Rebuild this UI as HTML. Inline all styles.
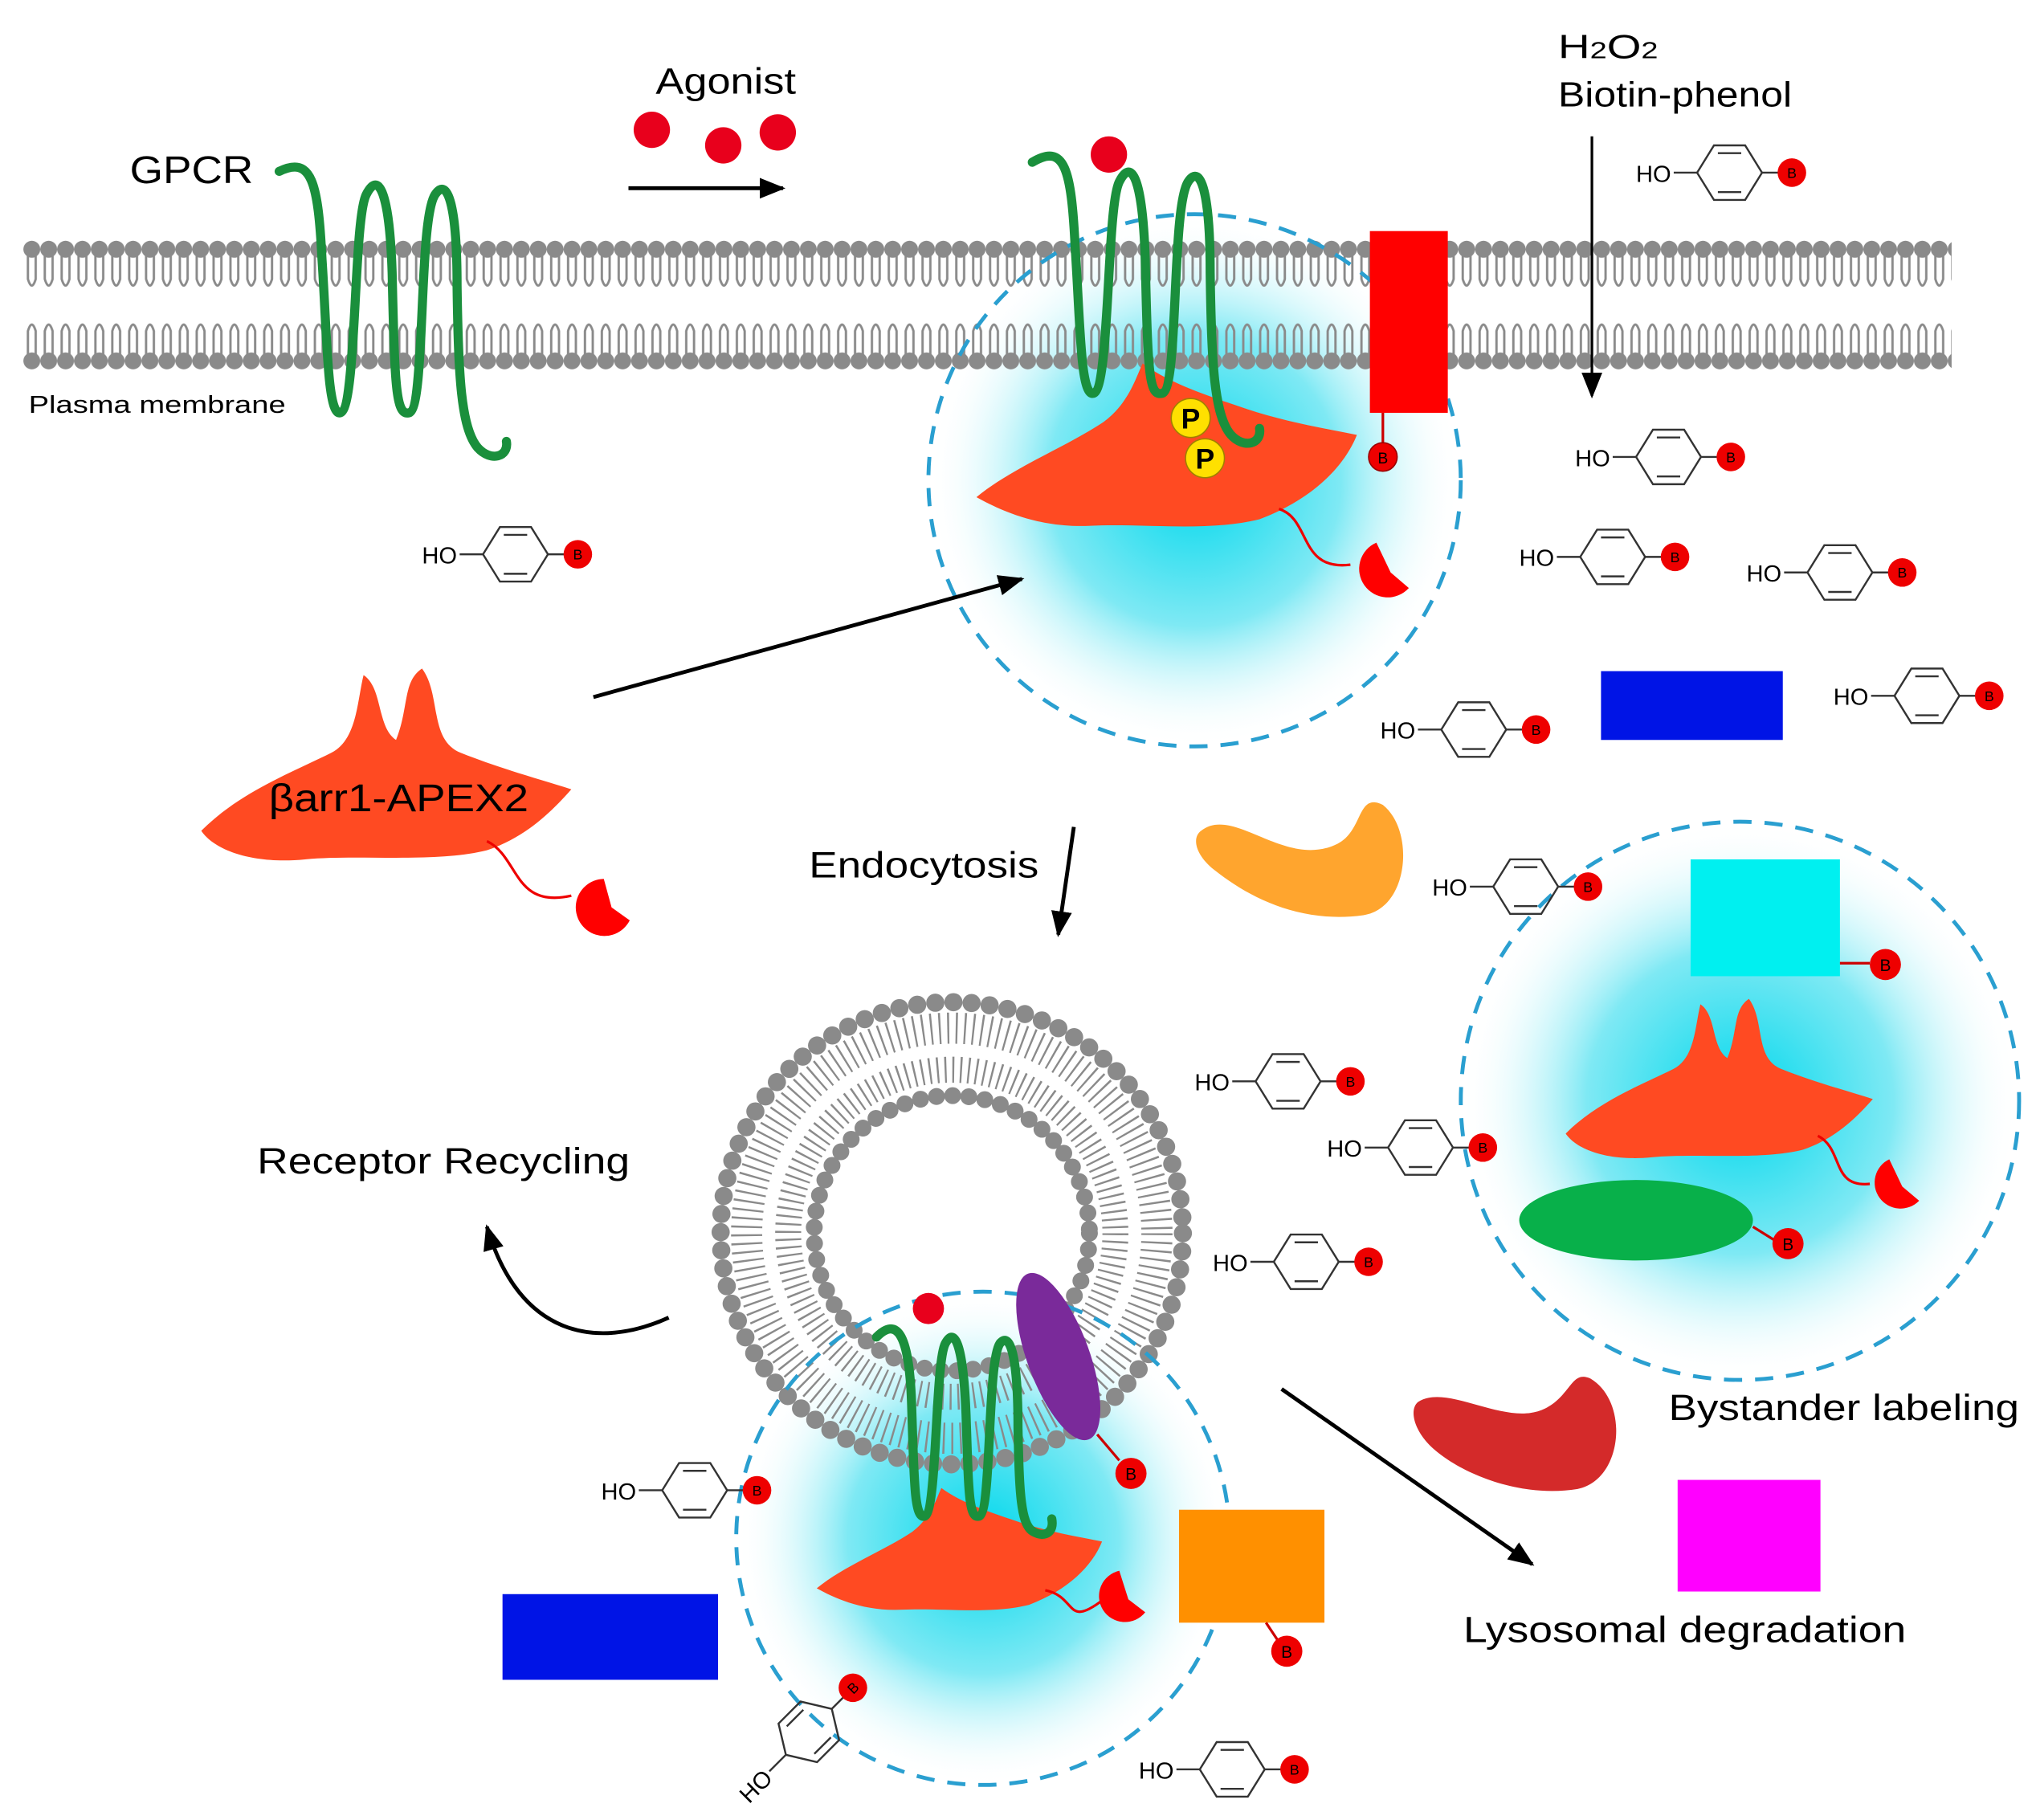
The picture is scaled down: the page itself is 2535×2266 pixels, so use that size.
<!DOCTYPE html>
<html><head><meta charset="utf-8"><style>html,body{margin:0;padding:0;background:#fff}svg{display:block}text{font-family:"Liberation Sans",sans-serif}</style></head>
<body>
<svg width="2535" height="2266" viewBox="0 0 1568 1402" preserveAspectRatio="none" xmlns="http://www.w3.org/2000/svg">
<defs>
<radialGradient id="cy"><stop offset="0" stop-color="#00d8ec"/><stop offset="0.55" stop-color="#7fe9f4"/><stop offset="1" stop-color="#fff" stop-opacity="0"/></radialGradient>
<pattern id="mem" x="18" y="185" width="13" height="100" patternUnits="userSpaceOnUse">
<circle cx="6.5" cy="7" r="6.5" fill="#8a8a8a"/><path d="M3.5 12 L3.5 30 Q6.5 40 9.5 30 L9.5 12" stroke="#8a8a8a" stroke-width="1.8" fill="none"/>
<circle cx="6.5" cy="93" r="6.5" fill="#8a8a8a"/><path d="M3.5 88 L3.5 70 Q6.5 60 9.5 70 L9.5 88" stroke="#8a8a8a" stroke-width="1.8" fill="none"/>
</pattern>
<marker id="ah2" markerWidth="20" markerHeight="16" refX="18" refY="8" orient="auto" markerUnits="userSpaceOnUse"><path d="M0,0 L20,8 L0,16z" fill="#000"/></marker>
</defs>
<rect width="1568" height="1402" fill="#fff"/>

<circle cx="920" cy="370" r="205" fill="url(#cy)"/>
<circle cx="1340" cy="848" r="215" fill="url(#cy)"/>
<circle cx="757" cy="1185" r="190" fill="url(#cy)"/>

<rect x="18" y="185" width="1485" height="100" fill="url(#mem)"/>

<g fill="none" stroke="#8a8a8a" stroke-linecap="round">
<circle cx="733" cy="950" r="178" stroke-width="14" stroke-dasharray="0 14"/>
<circle cx="733" cy="950" r="158" stroke-width="24" stroke-dasharray="1.5 5" stroke-linecap="butt"/>
<circle cx="733" cy="950" r="106" stroke-width="13" stroke-dasharray="0 12.5"/>
<circle cx="733" cy="950" r="126" stroke-width="20" stroke-dasharray="1.5 4.5" stroke-linecap="butt"/>
</g>

<g fill="none" stroke="#2a9fd0" stroke-width="3" stroke-dasharray="14 10">
<circle cx="920" cy="370" r="205"/>
<circle cx="1340" cy="848" r="215"/>
<circle cx="757" cy="1185" r="190"/>
</g>

<rect x="1055" y="178" width="60" height="140" fill="#f00"/>
<line x1="1065" y1="318" x2="1065" y2="345" stroke="#c00" stroke-width="2"/>
<circle cx="1065" cy="352" r="11" fill="#e00" stroke="#900"/><text x="1065" y="357" font-size="12" text-anchor="middle">B</text>
<rect x="1233" y="517" width="140" height="53" fill="#0014e6"/>
<rect x="387" y="1228" width="166" height="66" fill="#0014e6"/>
<rect x="1302" y="662" width="115" height="90" fill="#00f0f0"/>
<rect x="908" y="1163" width="112" height="87" fill="#ff9000"/>
<rect x="1292" y="1140" width="110" height="86" fill="#ff00ff"/>
<line x1="1417" y1="742" x2="1440" y2="742" stroke="#c00" stroke-width="2"/>
<circle cx="1452" cy="743" r="12" fill="#e00"/><text x="1452" y="748" font-size="13" text-anchor="middle">B</text>
<line x1="975" y1="1250" x2="985" y2="1265" stroke="#c00" stroke-width="2"/>
<circle cx="991" cy="1272" r="12" fill="#e00"/><text x="991" y="1277" font-size="13" text-anchor="middle">B</text>

<path d="M925,640 C950,620 990,670 1030,650 C1050,640 1045,610 1065,620 C1090,640 1085,700 1050,705 C1000,712 960,690 935,670 C920,658 918,645 925,640Z" fill="#ffa52e"/>
<path d="M1092,1080 C1115,1065 1160,1100 1190,1085 C1210,1075 1210,1055 1225,1062 C1255,1080 1250,1140 1215,1147 C1165,1155 1115,1130 1098,1110 C1088,1098 1086,1085 1092,1080Z" fill="#d42a2a"/>
<ellipse cx="1260" cy="940" rx="90" ry="31" fill="#08b04a"/>
<line x1="1350" y1="945" x2="1366" y2="955" stroke="#c00" stroke-width="2"/>
<circle cx="1377" cy="958" r="12" fill="#e00"/><text x="1377" y="963" font-size="13" text-anchor="middle">B</text>
<ellipse cx="815" cy="1045" rx="24" ry="68" fill="#7a2a9a" transform="rotate(-20 815 1045)"/>
<line x1="845" y1="1105" x2="862" y2="1125" stroke="#c00" stroke-width="2"/>
<circle cx="871" cy="1135" r="12" fill="#e00"/><text x="871" y="1140" font-size="13" text-anchor="middle">B</text>

<g fill="#ff4a22">
<path transform="translate(295,600)" d="M-140,40 C-110,10 -70,-5 -40,-20 C-20,-30 -20,-60 -15,-80 C0,-70 -5,-40 10,-30 C20,-55 15,-75 30,-85 C45,-65 35,-30 60,-20 C90,-8 120,0 145,8 C130,25 110,45 80,55 C40,65 -20,58 -60,62 C-100,66 -130,55 -140,40Z"/>
<path transform="translate(900,345)" d="M-148,38 C-120,15 -80,0 -50,-20 C-30,-35 -25,-55 -20,-65 C0,-50 30,-40 60,-30 C90,-20 120,-15 145,-10 C135,15 110,40 70,55 C30,65 -20,58 -60,60 C-100,62 -130,48 -148,38Z"/>
<path transform="translate(1322,840) scale(0.83)" d="M-140,40 C-110,10 -70,-5 -40,-20 C-20,-30 -20,-60 -15,-80 C0,-70 -5,-40 10,-30 C20,-55 15,-75 30,-85 C45,-65 35,-30 60,-20 C90,-8 120,0 145,8 C130,25 110,45 80,55 C40,65 -20,58 -60,62 C-100,66 -130,55 -140,40Z"/>
<path transform="translate(740,1195) scale(0.75)" d="M-148,38 C-120,15 -80,0 -50,-20 C-30,-35 -25,-55 -20,-65 C0,-50 30,-40 60,-30 C90,-20 120,-15 145,-10 C135,15 110,40 70,55 C30,65 -20,58 -60,60 C-100,62 -130,48 -148,38Z"/>
</g>
<g fill="none" stroke="#e00" stroke-width="2">
<path d="M375,648 C400,660 395,700 440,690"/>
<path d="M985,392 C1010,400 1000,440 1040,435"/>
<path d="M1400,875 C1420,885 1410,915 1440,912"/>
<path d="M805,1225 C830,1230 820,1255 850,1232"/>
</g>
<g fill="#f00">
<path d="M465,677 a22,22 0 1 0 20,32 l-14,-10 z"/>
<path d="M1060,418 a22,22 0 1 0 25,35 l-14,-12 z"/>
<path d="M1455,893 a20,20 0 1 0 23,32 l-13,-11 z"/>
<path d="M862,1210 a20,20 0 1 0 20,32 l-13,-10 z"/>
</g>

<g fill="none" stroke="#1a8f3c" stroke-width="7" stroke-linecap="round" stroke-linejoin="round">
<path d="M215,132 C240,120 245,140 248,200 C252,260 252,320 262,318 C275,315 272,170 282,150 C292,130 300,150 302,210 C304,300 305,320 315,318 C328,315 322,170 335,150 C345,135 352,160 352,220 C353,290 355,330 368,345 C378,356 392,352 390,340"/>
<path d="M795,125 C820,110 825,130 828,190 C832,250 832,305 842,303 C855,300 852,160 862,140 C872,120 880,140 882,200 C884,290 885,305 895,303 C908,300 902,160 915,140 C925,125 932,150 932,210 C933,280 935,320 948,335 C958,346 972,342 970,330"/>
<path d="M675,1030 C690,1015 700,1025 702,1080 C704,1140 704,1170 712,1168 C722,1165 720,1050 728,1035 C736,1020 742,1040 744,1090 C746,1150 746,1170 754,1168 C764,1165 760,1050 770,1035 C778,1025 784,1045 784,1100 C785,1150 786,1175 796,1180 C805,1185 812,1180 810,1170"/>
</g>
<g fill="#e8001c">
<circle cx="502" cy="100" r="14"/><circle cx="557" cy="112" r="14"/><circle cx="599" cy="102" r="14"/>
<circle cx="854" cy="119" r="14"/><circle cx="715" cy="1008" r="12"/>
</g>
<g font-size="22" font-weight="bold" text-anchor="middle">
<circle cx="917" cy="322" r="15" fill="#ffe000" stroke="#a08000"/><text x="917" y="330">P</text>
<circle cx="928" cy="353" r="15" fill="#ffe000" stroke="#a08000"/><text x="928" y="361">P</text>
</g>

<g stroke="#000" stroke-width="3" fill="none">
<line x1="484" y1="145" x2="603" y2="145" marker-end="url(#ah2)"/>
<line x1="457" y1="537" x2="787" y2="446" marker-end="url(#ah2)"/>
<line x1="1226" y1="105" x2="1226" y2="305" stroke-width="2" marker-end="url(#ah2)"/>
<line x1="827" y1="637" x2="815" y2="720" marker-end="url(#ah2)"/>
<line x1="987" y1="1070" x2="1180" y2="1205" marker-end="url(#ah2)"/>
<path d="M515,1015 C460,1040 400,1030 375,945" marker-end="url(#ah2)"/>
</g>

<g font-size="18" fill="#000">
<g transform="translate(1260,133)"><text x="0" y="7">HO</text><path d="M29,0 H47 M97,0 H112" stroke="#333" stroke-width="1.5"/><path d="M47,0 L60,-21 H84 L97,0 L84,21 H60Z M63,-15 H81 M63,15 H81" fill="none" stroke="#333" stroke-width="1.5"/><circle cx="120" cy="0" r="11" fill="#e00"/><text x="120" y="4" font-size="11" text-anchor="middle">B</text></g>
<g transform="translate(1213,352)"><text x="0" y="7">HO</text><path d="M29,0 H47 M97,0 H112" stroke="#333" stroke-width="1.5"/><path d="M47,0 L60,-21 H84 L97,0 L84,21 H60Z M63,-15 H81 M63,15 H81" fill="none" stroke="#333" stroke-width="1.5"/><circle cx="120" cy="0" r="11" fill="#e00"/><text x="120" y="4" font-size="11" text-anchor="middle">B</text></g>
<g transform="translate(1170,429)"><text x="0" y="7">HO</text><path d="M29,0 H47 M97,0 H112" stroke="#333" stroke-width="1.5"/><path d="M47,0 L60,-21 H84 L97,0 L84,21 H60Z M63,-15 H81 M63,15 H81" fill="none" stroke="#333" stroke-width="1.5"/><circle cx="120" cy="0" r="11" fill="#e00"/><text x="120" y="4" font-size="11" text-anchor="middle">B</text></g>
<g transform="translate(1345,441)"><text x="0" y="7">HO</text><path d="M29,0 H47 M97,0 H112" stroke="#333" stroke-width="1.5"/><path d="M47,0 L60,-21 H84 L97,0 L84,21 H60Z M63,-15 H81 M63,15 H81" fill="none" stroke="#333" stroke-width="1.5"/><circle cx="120" cy="0" r="11" fill="#e00"/><text x="120" y="4" font-size="11" text-anchor="middle">B</text></g>
<g transform="translate(325,427)"><text x="0" y="7">HO</text><path d="M29,0 H47 M97,0 H112" stroke="#333" stroke-width="1.5"/><path d="M47,0 L60,-21 H84 L97,0 L84,21 H60Z M63,-15 H81 M63,15 H81" fill="none" stroke="#333" stroke-width="1.5"/><circle cx="120" cy="0" r="11" fill="#e00"/><text x="120" y="4" font-size="11" text-anchor="middle">B</text></g>
<g transform="translate(1412,536)"><text x="0" y="7">HO</text><path d="M29,0 H47 M97,0 H112" stroke="#333" stroke-width="1.5"/><path d="M47,0 L60,-21 H84 L97,0 L84,21 H60Z M63,-15 H81 M63,15 H81" fill="none" stroke="#333" stroke-width="1.5"/><circle cx="120" cy="0" r="11" fill="#e00"/><text x="120" y="4" font-size="11" text-anchor="middle">B</text></g>
<g transform="translate(1063,562)"><text x="0" y="7">HO</text><path d="M29,0 H47 M97,0 H112" stroke="#333" stroke-width="1.5"/><path d="M47,0 L60,-21 H84 L97,0 L84,21 H60Z M63,-15 H81 M63,15 H81" fill="none" stroke="#333" stroke-width="1.5"/><circle cx="120" cy="0" r="11" fill="#e00"/><text x="120" y="4" font-size="11" text-anchor="middle">B</text></g>
<g transform="translate(1103,683)"><text x="0" y="7">HO</text><path d="M29,0 H47 M97,0 H112" stroke="#333" stroke-width="1.5"/><path d="M47,0 L60,-21 H84 L97,0 L84,21 H60Z M63,-15 H81 M63,15 H81" fill="none" stroke="#333" stroke-width="1.5"/><circle cx="120" cy="0" r="11" fill="#e00"/><text x="120" y="4" font-size="11" text-anchor="middle">B</text></g>
<g transform="translate(920,833)"><text x="0" y="7">HO</text><path d="M29,0 H47 M97,0 H112" stroke="#333" stroke-width="1.5"/><path d="M47,0 L60,-21 H84 L97,0 L84,21 H60Z M63,-15 H81 M63,15 H81" fill="none" stroke="#333" stroke-width="1.5"/><circle cx="120" cy="0" r="11" fill="#e00"/><text x="120" y="4" font-size="11" text-anchor="middle">B</text></g>
<g transform="translate(1022,884)"><text x="0" y="7">HO</text><path d="M29,0 H47 M97,0 H112" stroke="#333" stroke-width="1.5"/><path d="M47,0 L60,-21 H84 L97,0 L84,21 H60Z M63,-15 H81 M63,15 H81" fill="none" stroke="#333" stroke-width="1.5"/><circle cx="120" cy="0" r="11" fill="#e00"/><text x="120" y="4" font-size="11" text-anchor="middle">B</text></g>
<g transform="translate(934,972)"><text x="0" y="7">HO</text><path d="M29,0 H47 M97,0 H112" stroke="#333" stroke-width="1.5"/><path d="M47,0 L60,-21 H84 L97,0 L84,21 H60Z M63,-15 H81 M63,15 H81" fill="none" stroke="#333" stroke-width="1.5"/><circle cx="120" cy="0" r="11" fill="#e00"/><text x="120" y="4" font-size="11" text-anchor="middle">B</text></g>
<g transform="translate(463,1148)"><text x="0" y="7">HO</text><path d="M29,0 H47 M97,0 H112" stroke="#333" stroke-width="1.5"/><path d="M47,0 L60,-21 H84 L97,0 L84,21 H60Z M63,-15 H81 M63,15 H81" fill="none" stroke="#333" stroke-width="1.5"/><circle cx="120" cy="0" r="11" fill="#e00"/><text x="120" y="4" font-size="11" text-anchor="middle">B</text></g>
<g transform="translate(877,1363)"><text x="0" y="7">HO</text><path d="M29,0 H47 M97,0 H112" stroke="#333" stroke-width="1.5"/><path d="M47,0 L60,-21 H84 L97,0 L84,21 H60Z M63,-15 H81 M63,15 H81" fill="none" stroke="#333" stroke-width="1.5"/><circle cx="120" cy="0" r="11" fill="#e00"/><text x="120" y="4" font-size="11" text-anchor="middle">B</text></g>
<g transform="translate(572,1385) rotate(-45)"><text x="0" y="7">HO</text><path d="M29,0 H47 M97,0 H112" stroke="#333" stroke-width="1.5"/><path d="M47,0 L60,-21 H84 L97,0 L84,21 H60Z M63,-15 H81 M63,15 H81" fill="none" stroke="#333" stroke-width="1.5"/><circle cx="120" cy="0" r="11" fill="#e00"/><text x="120" y="4" font-size="11" text-anchor="middle">B</text></g>
</g>

<g fill="#000">
<text x="505" y="72" font-size="28" textLength="108" lengthAdjust="spacingAndGlyphs">Agonist</text>
<text x="100" y="141" font-size="30" textLength="95" lengthAdjust="spacingAndGlyphs">GPCR</text>
<text x="1200" y="45" font-size="26" textLength="77" lengthAdjust="spacingAndGlyphs">H<tspan font-size="18">2</tspan>O<tspan font-size="18">2</tspan></text>
<text x="1200" y="82" font-size="27" textLength="180" lengthAdjust="spacingAndGlyphs">Biotin-phenol</text>
<text x="22" y="318" font-size="19" textLength="198" lengthAdjust="spacingAndGlyphs">Plasma membrane</text>
<text x="207" y="625" font-size="30" textLength="200" lengthAdjust="spacingAndGlyphs">βarr1-APEX2</text>
<text x="623" y="676" font-size="28" textLength="177" lengthAdjust="spacingAndGlyphs">Endocytosis</text>
<text x="198" y="904" font-size="28" textLength="287" lengthAdjust="spacingAndGlyphs">Receptor Recycling</text>
<text x="1285" y="1094" font-size="28" textLength="270" lengthAdjust="spacingAndGlyphs">Bystander labeling</text>
<text x="1127" y="1265" font-size="28" textLength="341" lengthAdjust="spacingAndGlyphs">Lysosomal degradation</text>
</g>
</svg>
</body></html>
